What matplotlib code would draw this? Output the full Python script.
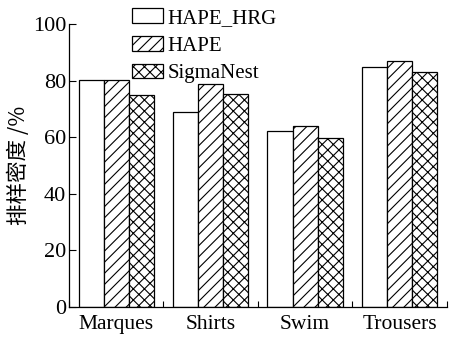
import matplotlib
matplotlib.use("Agg")
import matplotlib.pyplot as plt
import numpy as np

categories = ["Marques", "Shirts", "Swim", "Trousers"]
series_names = ["HAPE_HRG", "HAPE", "SigmaNest"]
hape_hrg = [80.4, 69.0, 62.4, 85.0]
hape = [80.4, 78.8, 64.1, 87.0]
sigmanest = [75.0, 75.5, 59.7, 83.0]
yticks = [0, 20, 40, 60, 80, 100]

plt.rcParams["font.family"] = ["Liberation Serif", "Noto Sans CJK SC"]
plt.rcParams["hatch.linewidth"] = 0.8

fig = plt.figure(figsize=(4.49, 3.38), dpi=100)
ax = fig.add_axes([0.1537, 0.0917, 0.995 - 0.1537, 0.928 - 0.0917])

x = np.arange(len(categories))
w = 0.266
hatches = ["", "///", "xxx"]
for i, (name, vals) in enumerate(zip(series_names, [hape_hrg, hape, sigmanest])):
    ax.bar(x + (i - 1) * w, vals, width=w, facecolor="white", edgecolor="black",
           linewidth=0.9, hatch=hatches[i], label=name)

ax.set_xlim(-0.5, len(categories) - 0.5)
ax.set_ylim(0, 100)
ax.set_yticks(yticks)
ax.set_xticks(x)
ax.set_xticklabels(categories)
ax.set_xticks(np.arange(len(categories) + 1) - 0.5, minor=True)
ax.tick_params(axis="x", which="major", length=0, labelsize=15.5, pad=6)
ax.tick_params(axis="x", which="minor", length=4, direction="in", width=0.8)
ax.tick_params(axis="y", direction="in", length=5, width=0.8, labelsize=16, pad=2)
for s in ["top", "right"]:
    ax.spines[s].set_visible(False)
for s in ["left", "bottom"]:
    ax.spines[s].set_linewidth(0.9)

ax.set_ylabel("排样密度 /%", fontsize=15.5, family=["Noto Sans CJK SC", "Liberation Serif"], labelpad=2)

leg = fig.legend(loc="upper left", bbox_to_anchor=(0.275, 1.0), frameon=False,
                 fontsize=15, handlelength=1.5, handleheight=0.72,
                 handletextpad=0.2, labelspacing=0.38, borderaxespad=0.0)

fig.savefig("out.png", dpi=100)
